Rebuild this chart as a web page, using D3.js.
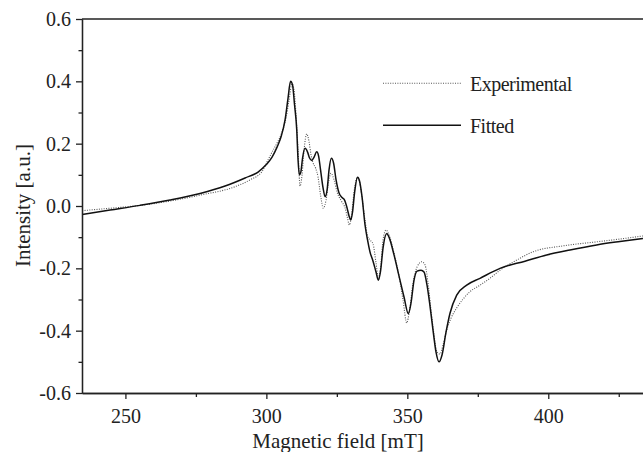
<!DOCTYPE html>
<html>
<head>
<meta charset="utf-8">
<script src="https://cdn.jsdelivr.net/npm/d3@7"></script>
<style>
  body { margin: 0; background: #fff; }
</style>
</head>
<body>
<svg id="chart" width="643" height="452"></svg>
<script>
// field [mT], intensity [a.u.]
var fittedField = [234.65, 244.57, 255.21, 265.85, 276.49, 285.35, 292.45, 297.06, 299.89, 302.02, 303.79, 305.21, 306.63, 307.70, 308.58, 309.29, 310.00, 310.78, 311.24, 311.70, 312.23, 312.84, 313.72, 314.61, 315.32, 316.10, 316.92, 317.87, 318.51, 319.22, 320.11, 320.82, 321.53, 322.23, 323.05, 323.83, 324.72, 325.78, 326.84, 327.73, 328.62, 329.33, 329.93, 330.57, 331.28, 332.34, 333.05, 333.94, 335.00, 335.89, 336.77, 337.84, 338.90, 339.72, 340.50, 341.38, 342.70, 343.51, 345.28, 347.06, 348.83, 350.35, 351.31, 352.38, 353.44, 354.86, 355.92, 356.99, 358.05, 359.11, 360.18, 361.24, 362.31, 363.72, 365.14, 367.52, 371.06, 375.78, 382.87, 391.74, 399.43, 407.70, 417.16, 425.42, 433.58];
var fittedValue = [-0.027, -0.013, 0.002, 0.019, 0.040, 0.064, 0.090, 0.109, 0.132, 0.157, 0.189, 0.222, 0.276, 0.347, 0.400, 0.388, 0.324, 0.244, 0.148, 0.100, 0.109, 0.154, 0.185, 0.173, 0.154, 0.146, 0.157, 0.174, 0.161, 0.116, 0.058, 0.030, 0.051, 0.116, 0.153, 0.138, 0.084, 0.042, 0.027, 0.019, -0.006, -0.032, -0.045, -0.019, 0.042, 0.092, 0.080, 0.029, -0.061, -0.109, -0.148, -0.177, -0.212, -0.238, -0.209, -0.135, -0.088, -0.100, -0.157, -0.225, -0.292, -0.345, -0.311, -0.238, -0.209, -0.206, -0.212, -0.254, -0.321, -0.398, -0.469, -0.500, -0.478, -0.405, -0.344, -0.286, -0.254, -0.232, -0.200, -0.177, -0.157, -0.141, -0.125, -0.114, -0.104];

var expField = [234.65, 241.03, 247.41, 255.21, 265.85, 276.49, 288.90, 294.22, 298.48, 300.60, 302.02, 303.79, 305.57, 306.99, 308.05, 309.11, 309.82, 310.53, 311.24, 311.95, 312.66, 313.37, 314.33, 315.14, 315.85, 316.56, 317.45, 318.33, 319.22, 320.21, 321.17, 322.06, 322.94, 324.01, 325.07, 326.74, 327.91, 328.79, 329.43, 330.21, 331.10, 332.27, 333.05, 333.94, 335.00, 335.89, 336.77, 337.84, 338.90, 339.72, 340.50, 341.38, 342.45, 343.51, 345.28, 347.06, 348.48, 349.79, 350.78, 352.02, 353.44, 355.11, 356.28, 357.34, 358.40, 359.47, 360.53, 361.60, 362.66, 363.97, 365.50, 367.52, 369.75, 372.23, 375.78, 379.33, 382.87, 388.90, 394.57, 405.21, 417.16, 425.42, 433.58];
var expValue = [-0.015, -0.010, -0.005, 0.002, 0.016, 0.035, 0.062, 0.084, 0.111, 0.148, 0.173, 0.202, 0.238, 0.283, 0.340, 0.392, 0.372, 0.292, 0.180, 0.064, 0.100, 0.180, 0.231, 0.206, 0.164, 0.138, 0.122, 0.093, 0.035, -0.007, 0.019, 0.077, 0.105, 0.084, 0.045, 0.014, -0.006, -0.039, -0.061, -0.029, 0.045, 0.092, 0.077, 0.026, -0.045, -0.096, -0.109, -0.122, -0.183, -0.231, -0.199, -0.109, -0.077, -0.093, -0.151, -0.225, -0.302, -0.375, -0.334, -0.247, -0.196, -0.179, -0.189, -0.247, -0.334, -0.414, -0.469, -0.475, -0.446, -0.398, -0.360, -0.327, -0.299, -0.275, -0.254, -0.232, -0.206, -0.173, -0.147, -0.128, -0.115, -0.106, -0.096];

var xMajor = [250, 300, 350, 400];
var xMinor = [275, 325, 375, 425];
var yMajor = [-0.6, -0.4, -0.2, 0.0, 0.2, 0.4, 0.6];
var yMinor = [-0.5, -0.3, -0.1, 0.1, 0.3, 0.5];
var seriesNames = ["Experimental", "Fitted"];

var serif = "'Liberation Serif', 'Times New Roman', 'DejaVu Serif', serif";

var margin = {top: 19, right: 0, bottom: 59, left: 82};
var width = 643 - margin.left - margin.right,
    height = 452 - margin.top - margin.bottom;

var svg = d3.select("#chart");
var g = svg.append("g")
    .attr("transform", "translate(" + margin.left + "," + margin.top + ")");

var x = d3.scaleLinear().domain([234.6, 433.6]).range([0, width]);
var y = d3.scaleLinear().domain([-0.6, 0.6]).range([height, 0]);

g.append("clipPath").attr("id", "clip")
  .append("rect").attr("width", width).attr("height", height);

var line = d3.line()
    .x(d => x(d[0]))
    .y(d => y(d[1]))
    .curve(d3.curveMonotoneX);

var expData = expField.map((f, i) => [f, expValue[i]]);
var fitData = fittedField.map((f, i) => [f, fittedValue[i]]);

g.append("path")
    .datum(expData)
    .attr("clip-path", "url(#clip)")
    .attr("fill", "none")
    .attr("stroke", "#555")
    .attr("stroke-width", 1.1)
    .attr("stroke-dasharray", "1,1.4")
    .attr("d", line);

g.append("path")
    .datum(fitData)
    .attr("clip-path", "url(#clip)")
    .attr("fill", "none")
    .attr("stroke", "#111")
    .attr("stroke-width", 1.5)
    .attr("d", line);

// axes
g.append("g")
    .attr("transform", "translate(0," + height + ")")
    .call(d3.axisBottom(x).tickValues(xMajor).tickSize(6).tickSizeOuter(0).tickPadding(10));
g.append("g")
    .attr("transform", "translate(0," + height + ")")
    .call(d3.axisBottom(x).tickValues(xMinor).tickSize(4).tickFormat("").tickSizeOuter(0));

g.append("g")
    .call(d3.axisLeft(y).tickValues(yMajor).tickSize(6).tickSizeOuter(0).tickPadding(5)
      .tickFormat(d => d.toFixed(1)));
g.append("g")
    .call(d3.axisLeft(y).tickValues(yMinor).tickSize(3.5).tickFormat("").tickSizeOuter(0));

// top frame line
g.append("line")
    .attr("x1", 0).attr("x2", width)
    .attr("y1", 0).attr("y2", 0)
    .attr("stroke", "#222").attr("stroke-width", 1.3);

g.selectAll(".domain, .tick line").attr("stroke", "#222").attr("stroke-width", 1.3);
g.selectAll(".tick text")
    .attr("font-family", serif)
    .attr("font-size", 20)
    .attr("fill", "#222");

// axis titles
svg.append("text")
    .attr("transform", "translate(29.5,205.6) rotate(-90)")
    .attr("text-anchor", "middle")
    .attr("font-family", serif)
    .attr("font-size", 21)
    .attr("fill", "#222")
    .text("Intensity [a.u.]");

svg.append("text")
    .attr("x", 338)
    .attr("y", 448)
    .attr("text-anchor", "middle")
    .attr("font-family", serif)
    .attr("font-size", 21)
    .attr("fill", "#222")
    .text("Magnetic field [mT]");

// legend
var legend = svg.append("g");
var legendY = [83.3, 125.3];
seriesNames.forEach((name, i) => {
  legend.append("line")
      .attr("x1", 383).attr("x2", 461)
      .attr("y1", legendY[i]).attr("y2", legendY[i])
      .attr("stroke", i === 0 ? "#555" : "#111")
      .attr("stroke-width", i === 0 ? 1.1 : 1.5)
      .attr("stroke-dasharray", i === 0 ? "1,1.4" : null);
  legend.append("text")
      .attr("x", 470)
      .attr("y", legendY[i] + 7.5)
      .attr("font-family", serif)
      .attr("font-size", 20)
      .attr("letter-spacing", "-0.5")
      .attr("fill", "#222")
      .text(name);
});
</script>
</body>
</html>
